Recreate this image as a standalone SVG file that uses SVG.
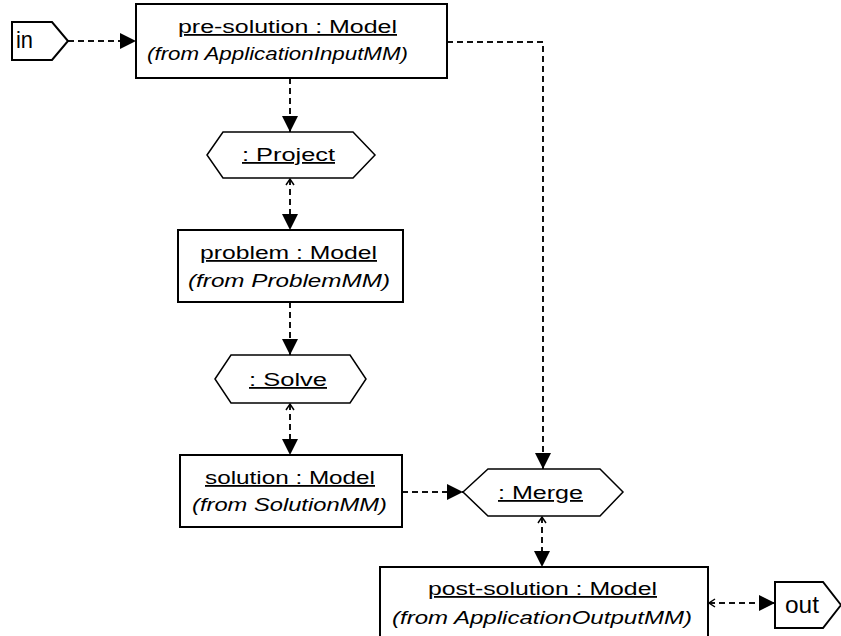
<svg xmlns="http://www.w3.org/2000/svg" width="841" height="636" viewBox="0 0 841 636">
<style>
  .box { fill: #fff; stroke: #000; stroke-width: 2; }
  .hex { fill: #fff; stroke: #000; stroke-width: 1.5; }
  .t { font-family: "Liberation Sans", Arial, sans-serif; font-size: 18px; fill: #000; }
  .u { text-decoration: underline; }
  .i { font-style: italic; }
  .big { font-size: 24px; }
  .conn { fill: none; stroke: #111; stroke-width: 2; stroke-dasharray: 6 4; }
</style>
<defs>
  <marker id="fill" markerUnits="userSpaceOnUse" markerWidth="18" markerHeight="18" refX="16" refY="8" orient="auto" overflow="visible">
    <path d="M0,0 L16,8 L0,16 Z" fill="#000"/>
  </marker>
  <marker id="open" markerUnits="userSpaceOnUse" markerWidth="10" markerHeight="10" refX="0" refY="0" orient="auto" overflow="visible">
    <path d="M6,-4 L0,0 L6,4" fill="none" stroke="#000" stroke-width="1.5"/>
  </marker>
</defs>

<g id="connectors">
  <path class="conn" d="M68,41 L136,41" marker-end="url(#fill)"/>
  <path class="conn" d="M290,78 L290,132" marker-end="url(#fill)"/>
  <path class="conn" d="M447,42 L543,42 L543,469" marker-end="url(#fill)"/>
  <path class="conn" d="M290,179 L290,230" marker-start="url(#open)" marker-end="url(#fill)"/>
  <path class="conn" d="M290,302 L290,355" marker-end="url(#fill)"/>
  <path class="conn" d="M290,404 L290,455" marker-start="url(#open)" marker-end="url(#fill)"/>
  <path class="conn" d="M402,492 L463,492" marker-end="url(#fill)"/>
  <path class="conn" d="M542,517 L542,567" marker-start="url(#open)" marker-end="url(#fill)"/>
  <path class="conn" d="M709,603 L775,603" marker-start="url(#open)" marker-end="url(#fill)"/>
</g>

<g id="in">
  <polygon class="box" points="12,22 52,22 68,41 52,60 12,60"/>
  <text class="t big" x="16" y="48" textLength="17" lengthAdjust="spacingAndGlyphs">in</text>
</g>

<g id="pre-solution">
  <rect class="box" x="136" y="4" width="311" height="74"/>
  <text class="t u" x="178" y="33" textLength="219" lengthAdjust="spacingAndGlyphs">pre-solution : Model</text>
  <text class="t i" x="147" y="60" textLength="261" lengthAdjust="spacingAndGlyphs">(from ApplicationInputMM)</text>
</g>

<g id="project">
  <polygon class="hex" points="207,155 223,132 353,132 375,155 353,178 223,178"/>
  <text class="t u" x="242" y="161" textLength="93" lengthAdjust="spacingAndGlyphs">: Project</text>
</g>

<g id="problem">
  <rect class="box" x="178" y="230" width="225" height="72"/>
  <text class="t u" x="200" y="259" textLength="177" lengthAdjust="spacingAndGlyphs">problem : Model</text>
  <text class="t i" x="188" y="287" textLength="202" lengthAdjust="spacingAndGlyphs">(from ProblemMM)</text>
</g>

<g id="solve">
  <polygon class="hex" points="215,379 231,355 350,355 366,379 350,403 231,403"/>
  <text class="t u" x="249" y="386" textLength="78" lengthAdjust="spacingAndGlyphs">: Solve</text>
</g>

<g id="solution">
  <rect class="box" x="180" y="455" width="222" height="72"/>
  <text class="t u" x="205" y="484" textLength="170" lengthAdjust="spacingAndGlyphs">solution : Model</text>
  <text class="t i" x="192" y="511" textLength="195" lengthAdjust="spacingAndGlyphs">(from SolutionMM)</text>
</g>

<g id="merge">
  <polygon class="hex" points="463,492 488,469 600,469 623,492 600,516 488,516"/>
  <text class="t u" x="498" y="499" textLength="85" lengthAdjust="spacingAndGlyphs">: Merge</text>
</g>

<g id="post-solution">
  <rect class="box" x="380" y="567" width="328" height="72"/>
  <text class="t u" x="428" y="595" textLength="229" lengthAdjust="spacingAndGlyphs">post-solution : Model</text>
  <text class="t i" x="392" y="624" textLength="300" lengthAdjust="spacingAndGlyphs">(from ApplicationOutputMM)</text>
</g>

<g id="out">
  <polygon class="box" points="775,582 823,582 841,605 823,628 775,628"/>
  <text class="t big" x="785" y="613" textLength="34" lengthAdjust="spacingAndGlyphs">out</text>
</g>
</svg>
